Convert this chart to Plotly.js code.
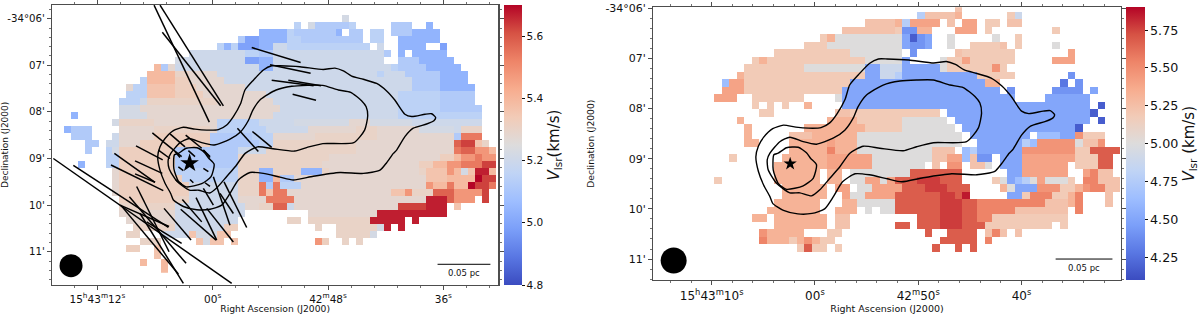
<!DOCTYPE html>
<html><head><meta charset="utf-8">
<script src="https://cdn.plot.ly/plotly-3.0.1.min.js"></script>
<style>html,body{margin:0;padding:0;background:#fff}#c{width:1200px;height:314px}</style>
</head><body><div id="c"></div>
<script>
// colour scale
const coolwarmStops=['#3b4cc0','#5977e3','#7b9ff9','#9ebeff','#c0d4f5','#dddcdc','#f2cbb7','#f7ac8e','#ee8468','#d65244','#b40426'];
// velocity classes (km/s)
const velocityKeys='zabcdefghijklmnopq';
const velocityLeft=[4.87,4.99,5.04,5.12,5.15,5.2,5.22,5.28,5.30,5.32,5.36,5.39,5.48,5.54,5.58,5.63,5.67,5.7];
const velocityRight=[4.17,4.28,4.41,4.5,4.64,4.77,4.89,5.0,5.18,5.23,5.32,5.4,5.47,5.54,5.68,5.77,5.85,5.9];
// velocity maps, one string per map row, run-length coded: count + class, "_" = no data
const mapLeft=[
"",
"42_ 1f",
"35_ 1d 1_ 1f 5c 1d 5_ 3c 2_ 1b",
"30_ 4b 1d 6c 1b 1_ 1c 1c 1_ 2d 1_ 3c 4b",
"27_ 1c 2a 4b 2d 9c 1_ 2d 2_ 6b",
"24_ 1d 1b 1d 3a 2b 2e 12d 1_ 1e 2_ 4b 2_ 1a",
"20_ 8e 2d 2c 16e 1c 1_ 1b 1_ 5b",
"18_ 1f 9e 2a 2b 16e 2_ 3c 5b",
"15_ 1k 1c 1g 12e 2b 17e 1d 4c 5b",
"14_ 4k 2h 4g 23e 1d 3e 5c 4b",
"13_ 1d 4k 2i 5g 27e 4c 4b",
"11_ 1g 2d 4j 3i 7g 24e 4c 5b",
"11_ 3d 4j 4i 9g 19e 6d 5c",
"10_ 3d 1e 10h 8g 18e 6d 5c",
"10_ 3f 20g 17e 6d 6c",
"3_ 1b 6_ 4f 18g 18e 12d",
"9_ 1f 5h 9g 6d 5e 8f 3g 6f 10e",
"2_ 1b 3c 4_ 5g 8h 1g 7d 6e 7g 3h 6g 5f 1e 3h",
"3_ 3c 3_ 1e 5g 8i 6c 3d 6g 9h 11g 1c 3m",
"5_ 2c 1_ 2e 3g 10i 7c 2d 12h 14g 1n 2o 1j 1h",
"5_ 1c 2_ 1d 1f 8i 9c 4e 13h 14g 1m 2n 2l 1k",
"8_ 2d 8i 9c 13h 16g 2i 1k 2l 1m 2l",
"4_ 1b 3_ 2d 8i 9c 12h 14g 2i 2k 2l 3m 2o",
"9_ 1g 8i 9d 3h 2b 4h 3b 1h 13g 1h 3j 1l 1k 1f 1j 2p 1k",
"9_ 1g 9i 8d 3h 2b 1k 2c 19g 3j 4k 1q 2o",
"9_ 1g 10i 7e 3h 1m 1c 1m 3d 18g 1l 2k 1m 2k 1q 2o 1m",
"9_ 1g 10i 7e 3h 1m 1j 2m 15g 2j 1l 3h 3n 4l 1o",
"10_ 8i 2h 7e 4g 4m 19g 3p 1n 3l 1_ 1o",
"10_ 8h 10e 2g 2h 2n 1e 15g 4o 3p 1_ 1j",
"10_ 8g 10e 9_ 10g 10p",
"11_ 7g 9e 7_ 2h 1_ 9h 5p 1_ 1p",
"12_ 6h 7e 2i 11_ 1h 2_ 6h 1f 1p 1_ 1p",
"11_ 2h 3_ 4e 1j 3f 2j 15_ 5h 1f",
"13_ 3h 5_ 1j 1f 2j 1_ 1j 11_ 1l 1i 2_ 1h 1_ 1h",
"11_ 2i 2_ 1j",
"15_ 1j",
"13_ 1k 2_ 1k",
"16_ 1k"];
const mapRight=[
"40_ 1i",
"35_ 1e 4i 1j 6_ 1h 1f",
"28_ 4i 1j 1e 4k 1_ 1i 1_ 2k 1_ 2h 1_ 2i",
"25_ 7i 1h 2b 2j 3_ 3k 1_ 1h 8_ 1h",
"22_ 1h 1j 1g 8g 1c 1z 1b 1c 2_ 1g 5_ 1g 2_ 1h",
"20_ 3h 10g 1c 2b 1c 2_ 1g 2_ 4h 1i 1_ 1h 4_ 1g",
"16_ 10h 7g 1_ 1b 5_ 1i 7h 7_ 1k",
"13_ 1h 1j 13h 5g 1c 4_ 1g 2h 1k 6h 5_ 3k",
"12_ 8h 8g 2c 3f 5c 1g 6h 1l 1h",
"11_ 1j 16h 2c 2f 1e 10c 5h 7_ 1b",
"9_ 1d 2k 14h 7c 11c 2j 8_ 1a 1_ 1b",
"9_ 3k 13h 21c 1_ 1b 5_ 4b 1_ 1c",
"8_ 3k 2_ 7h 4_ 1g 23c 4_ 6c",
"13_ 1h 1_ 1h 1_ 1h 2_ 1j 4_ 33c 1_ 1z",
"14_ 2h 8_ 2i 7h 5h 1_ 19c 1z",
"11_ 1j 11_ 4j 6h 6g 1_ 18c 1_ 1z",
"12_ 1j 7_ 3j 5j 5h 7g 1_ 15c 1z",
"12_ 1j 5_ 3i 6j 14g 1_ 8c 1_ 3d 2c 1l 3h",
"12_ 2j 4_ 5j 1k 3j 14g 2_ 6c 1e 1d 5l 1g 2i 1l",
"18_ 5j 1m 3j 10g 3i 1_ 1d 1e 6c 7l 2h 4n",
"10_ 1h 6_ 6j 6k 8g 2i 2k 1d 1i 2b 1_ 3c 7k 3h 2n",
"16_ 7j 6k 7g 1_ 1i 1_ 2l 1_ 2i 1g 1_ 3c 6k 1_ 3h 2n",
"16_ 6j 1_ 2j 1_ 8g 7n 6_ 2c 6k 2_ 1k 1m 2i",
"8_ 1h 7_ 6j 1_ 2j 1_ 2g 2k 1g 1k 3n 3o 3n 4_ 1h 1g 1c 1d 1e 1g 1k 3g 1h 1_ 2m 3i",
"17_ 6j 1_ 2k 1_ 2g 4k 3n 3o 3n 4_ 1j 1g 3c 3l 2h 1j 1l 2m 2i",
"17_ 6j 2_ 1k 2g 4k 6n 2o 1n 1p 5_ 2c 1h 3m 2h 1j 1m 3_ 1i",
"16_ 6j 3_ 2j 5g 6n 3o 2n 9m 3i 1j 1m 3_ 1i",
"15_ 7j 2_ 3j 1_ 1g 1_ 2g 6n 3o 2n 5m 7i 1_ 1m",
"13_ 2j 1_ 7j 1_ 2i 9_ 3n 3o 2n 2m 10h",
"16_ 7j 1_ 2i 6_ 2n 1_ 3n 3o 3n 9h 1_ 1h",
"14_ 1l 5j 3_ 2h 11_ 1n 2_ 4n 1_ 1i 1m 1i 1_ 1i",
"14_ 1m 3j 1h 1j 1l 1j 2h 14_ 5n 1_ 1m",
"19_ 1h 1n 2h 1_ 1h 12_ 1n 2_ 1n 1_ 1n"];
// dense-gas contours on the sky: RA seconds from 15h43m00s, Dec arcmin south of -34 deg
const outerRA=[-23.2,-22.78,-22.09,-20.7,-20,-18.97,-18.1,-17.06,-15.67,-14.46,-13.6,-12.72,-11.5,-9.08,-7,-6.14,-5.27,-4.23,-3.36,-2.91,-2.15,-1.46,-0.59,0.62,1.84,3.05,4.09,4.96,5.48,5.72,5.48,4.96,4.37,4.09,3.05,1.66,0.28,-0.94,-1.8,-2.67,-3.88,-5.27,-7,-8.39,-10.47,-13.24,-15.67,-17.41,-18.1,-18.8,-19.14,-20,-20.87,-22.26,-23.02,-23.2];
const outerDec=[8.12,8.04,8.05,8.1,8.05,7.75,7.55,7.39,7.3,7.23,7.12,7.06,7.09,7.03,7.01,7.01,7.1,7.32,7.53,7.82,8.1,8.28,8.38,8.39,8.37,8.33,8.4,8.57,8.75,8.96,9.25,9.53,9.75,9.89,10.03,10.1,10.09,10,9.75,9.46,9.3,9.32,9.4,9.46,9.38,9.3,9.32,9.25,9.09,8.89,8.82,8.53,8.35,8.26,8.19,8.12];
const midRA=[-16.13,-15.97,-15.49,-14.36,-13.07,-11.46,-9.84,-8.23,-6.6,-4.99,-4.18,-3.7,-2.89,-1.76,-0.15,1.14,2.43,3.4,4.36,4.62,4.53,3.72,2.43,1.46,0.33,-0.47,-1.44,-2.41,-3.38,-4.67,-6.28,-8.54,-9.84,-11.46,-14.68,-15.81,-16.13];
const midDec=[8.09,7.89,7.76,7.58,7.53,7.43,7.43,7.45,7.53,7.73,7.96,8.19,8.43,8.59,8.71,8.66,8.57,8.66,8.89,9.02,9.22,9.49,9.68,9.68,9.74,9.62,9.39,9.16,8.89,8.75,8.79,8.84,8.76,8.68,8.66,8.39,8.09];
const innerRA=[3.56,2.75,1.62,0.82,0.43,-0.15,0.17,1.14,2.75,3.56,4.04,3.98,3.56];
const innerDec=[8.89,8.78,8.77,8.88,8.99,9.12,9.39,9.54,9.61,9.49,9.22,8.92,8.89];
// polarisation segments, start and end in the same sky units
const polStartRA=[6.1,5.48,5.24,-4.06,-5.97,-6.14,-7.87,-8.32,-2.57,-4.13,6.28,4.44,2.81,7.98,5.65,2.53,0.97,10.23,8.08,10.58,8.08,3.92,0.97,3.57,0.97,3.85,2.36,0.8,-0.07,-1.18,0.97,-0.76,3.16,1.73,3.33,0.62,5.06,7.91,8.67,9.64,14.5,16.58,9.57,7.56,6.87];
const polStartDec=[5.71,5.71,6.29,6.62,6.99,7.32,7.32,7.62,8.35,8.42,8.45,8.47,8.5,8.73,8.82,8.83,8.82,8.89,9.05,9.14,9.33,8.85,8.82,9.18,9.21,9.46,9.45,9.52,9.39,9.5,9.64,9.75,9.88,9.84,10.09,10.07,10.07,9.6,9.82,10,9.15,9,10,10.18,10.36];
const polEndRA=[0.35,-1.11,-0.83,-9.15,-10.19,-10.5,-11.27,-10.75,-4.75,-6.14,3.23,2.88,1.14,5.2,4.44,1.84,0.28,6,5.24,5.14,6,3.4,0.28,3.05,0.45,3.23,2.01,0.28,-1.8,-3.54,-0.07,-2.15,1.14,-0.42,-0.35,-2.15,2.25,4.54,2.77,4.54,4.61,-1.98,3.57,3.05,3.23];
const polEndDec=[8.22,7.87,7.87,6.94,7.17,7.44,7.44,7.75,8.85,8.76,8.96,8.75,8.78,9.03,9,8.96,8.98,9.51,9.32,9.69,9.51,8.98,8.96,9.26,9.28,9.55,9.52,9.6,10.43,10.48,10,10.18,10.36,10.75,10.75,10.79,10.75,11,11.25,10.46,10.48,11.68,11.48,11.68,10.82];
// markers: protostar, beam and 0.05 pc scale bar
const starRA=[2.4], starDec=[9.1];
const beamLeftRA=[14.74], beamLeftDec=[11.3], beamRightRA=[13.68], beamRightDec=[11.03];
const barLeftRA=[-23.4,-28.9], barLeftDec=[11.27,11.27], barRightRA=[-23.3,-28.8], barRightDec=[11,11];
// axis labels
const raTicksLeft=[12,0,-12,-24];
const raTextLeft=['15<sup>h</sup>43<sup>m</sup>12<sup>s</sup>','00<sup>s</sup>','42<sup>m</sup>48<sup>s</sup>','36<sup>s</sup>'];
const raTicksRight=[10,0,-10,-20];
const raTextRight=['15<sup>h</sup>43<sup>m</sup>10<sup>s</sup>','00<sup>s</sup>','42<sup>m</sup>50<sup>s</sup>','40<sup>s</sup>'];
const decTicks=[6,7,8,9,10,11];
const decText=["-34°06'","07'","08'","09'","10'","11'"];
const cbTicksLeft=[4.8,5.0,5.2,5.4,5.6];
const cbTextLeft=['4.8','5.0','5.2','5.4','5.6'];
const cbTicksRight=[4.25,4.5,4.75,5.0,5.25,5.5,5.75];
const cbTextRight=['4.25','4.50','4.75','5.00','5.25','5.50','5.75'];

function decode(rows,levels){
  const maxLen=66;
  return rows.map(s=>{
    const out=[];
    for(const m of s.matchAll(/(\d+)([_a-z])/g)){
      const n=+m[1];
      const v=m[2]==='_'?null:levels[velocityKeys.indexOf(m[2])];
      for(let i=0;i<n;i++)out.push(v);
    }
    while(out.length<maxLen)out.push(null);
    return out;
  });
}
const W=1200,H=314;
const colorscale=coolwarmStops.map((c,i)=>[i/10,c]);
const font='"DejaVu Sans", sans-serif';
const ink='#111';
const frame='#4d4d4d';
function polPath(a,b){const o=[];a.forEach((v,i)=>{o.push(v,b[i],null)});return o;}
const polX=polPath(polStartRA,polEndRA), polY=polPath(polStartDec,polEndDec);

function contourTraces(xa,ya){
  return [[outerRA,outerDec],[midRA,midDec],[innerRA,innerDec]].map(([x,y])=>({
    type:'scatter',mode:'lines',x,y,xaxis:xa,yaxis:ya,hoverinfo:'skip',showlegend:false,
    line:{color:'#000',width:1.4,shape:'spline',smoothing:0.6}
  }));
}
function mark(x,y,xa,ya,sym,size){
  return {type:'scatter',mode:'markers',x,y,xaxis:xa,yaxis:ya,hoverinfo:'skip',showlegend:false,
    marker:{symbol:sym,size,color:'#000',line:{width:0}}};
}
function bar(x,y,xa,ya){
  return {type:'scatter',mode:'lines',x,y,xaxis:xa,yaxis:ya,hoverinfo:'skip',showlegend:false,line:{color:'#000',width:1}};
}
function heat(z,zmin,zmax,x0,dx,y0,dy,xa,ya,cbx,cbTop,cbLen,tv,tt,thick,tfs,titleText){
  return {type:'heatmap',z,x0,dx,y0,dy,zmin,zmax,xaxis:xa,yaxis:ya,colorscale,zsmooth:false,hoverongaps:false,
    colorbar:{x:cbx/W,xanchor:'left',xpad:0,ypad:0,y:1-cbTop/H,yanchor:'top',lenmode:'pixels',len:cbLen,
      thicknessmode:'pixels',thickness:thick,outlinewidth:0,
      tickmode:'array',tickvals:tv,ticktext:tt,ticks:'outside',ticklen:3,tickwidth:1,tickcolor:ink,
      tickfont:{family:font,size:tfs,color:ink},
      title:{text:titleText,side:'right',font:{family:font,size:15,color:ink}}}};
}
function xAxis(dom,range,tv,tt,dtick,fs,anchor,standoff,tsz){
  return {domain:dom,range,anchor,tickmode:'array',tickvals:tv,ticktext:tt,ticks:'outside',ticklen:4,tickwidth:1,tickcolor:frame,
    minor:{tick0:0,dtick,ticks:'outside',ticklen:2,tickwidth:0.8,tickcolor:frame,showgrid:false},
    showline:true,linecolor:frame,linewidth:1.2,mirror:'allticks',showgrid:false,zeroline:false,
    tickfont:{family:font,size:fs,color:ink},
    title:{text:'Right Ascension (J2000)',font:{family:font,size:tsz,color:ink},standoff}};
}
function yAxis(dom,range,fs,anchor,standoff,tsz){
  return {domain:dom,range,anchor,tickmode:'array',tickvals:decTicks,ticktext:decText,ticks:'outside',ticklen:4,tickwidth:1,tickcolor:frame,
    minor:{tick0:0,dtick:0.2,ticks:'outside',ticklen:2,tickwidth:0.8,tickcolor:frame,showgrid:false},
    showline:true,linecolor:frame,linewidth:1.2,mirror:'allticks',showgrid:false,zeroline:false,
    tickfont:{family:font,size:fs,color:ink},
    title:{text:'Declination (J2000)',font:{family:font,size:tsz,color:ink},standoff}};
}
const data=[
  heat(decode(mapLeft,velocityLeft),4.8,5.7,16.59,-0.7253,5.84,0.1496,'x','y',504,5,279.7,cbTicksLeft,cbTextLeft,18,10.5,'<i>V</i><sub>lsr</sub>(km/s)'),
  ...contourTraces('x','y'),
  {type:'scatter',mode:'lines',x:polX,y:polY,xaxis:'x',yaxis:'y',hoverinfo:'skip',showlegend:false,connectgaps:false,line:{color:'#000',width:1.5}},
  mark(starRA,starDec,'x','y','star',14),
  mark(beamLeftRA,beamLeftDec,'x','y','circle',23),
  bar(barLeftRA,barLeftDec,'x','y'),
  heat(decode(mapRight,velocityRight),4.1,5.9,15.2,-0.7275,5.989,0.14985,'x2','y2',1126,7.3,272.7,cbTicksRight,cbTextRight,19,12.7,'<i>V</i><sub>lsr</sub> (km/s)'),
  ...contourTraces('x2','y2'),
  mark(starRA,starDec,'x2','y2','star',10),
  mark(beamRightRA,beamRightDec,'x2','y2','circle',26),
  bar(barRightRA,barRightDec,'x2','y2')
];
const layout={
  width:W,height:H,margin:{l:0,r:0,t:0,b:0},paper_bgcolor:'#fff',plot_bgcolor:'#fff',showlegend:false,
  xaxis:xAxis([52/W,498.3/W],[16.72,-29.72],raTicksLeft,raTextLeft,2.4,10.5,'y',6,9.2),
  yaxis:yAxis([1-284.7/H,1-5/H],[11.708,5.706],10.2,'x',9,9),
  xaxis2:xAxis([653.3/W,1120.7/W],[15.65,-29.6],raTicksRight,raTextRight,2,12,'y2',7,9.5),
  yaxis2:yAxis([1-280/H,1-7.3/H],[11.418,5.98],11,'x2',9,9.2),
  annotations:[
    {x:-26.15,y:11.45,xref:'x',yref:'y',text:'0.05 pc',showarrow:false,font:{family:font,size:8.5,color:ink}},
    {x:-26.04,y:11.17,xref:'x2',yref:'y2',text:'0.05 pc',showarrow:false,font:{family:font,size:8.5,color:ink}}
  ]
};
Plotly.newPlot('c',data,layout,{staticPlot:true,displayModeBar:false});
</script></body></html>
